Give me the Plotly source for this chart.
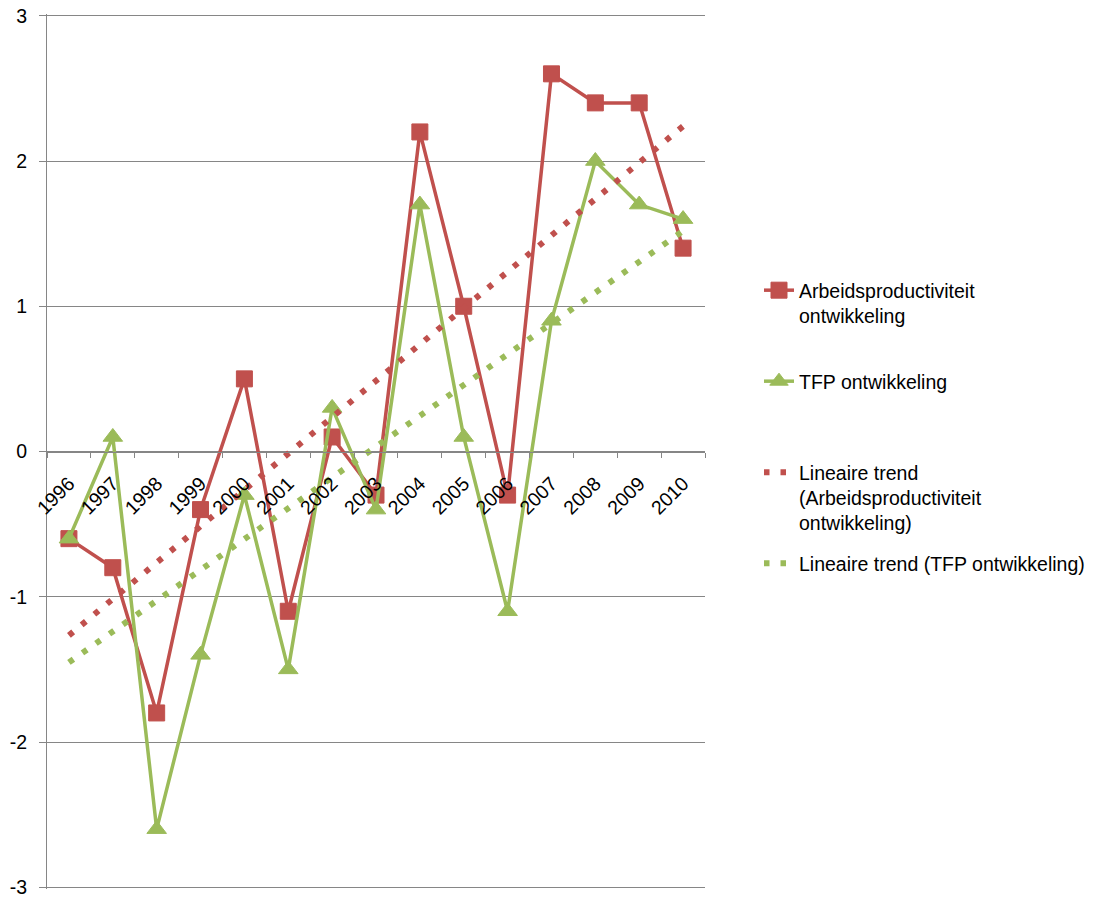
import numpy as np
import plotly.graph_objects as go

# Jaarlijkse ontwikkeling (%)
years = [str(y) for y in range(1996, 2011)]
arbeid = [-0.6, -0.8, -1.8, -0.4, 0.5, -1.1, 0.1, -0.3, 2.2, 1.0, -0.3, 2.6, 2.4, 2.4, 1.4]
tfp = [-0.6, 0.1, -2.6, -1.4, -0.3, -1.5, 0.3, -0.4, 1.7, 0.1, -1.1, 0.9, 2.0, 1.7, 1.6]
y_ticks = [-3, -2, -1, 0, 1, 2, 3]
y_labels = ["-3", "-2", "-1", "0", "1", "2", "3"]

RED = "#C0504D"
GREEN = "#9BBB59"
GRID = "#868686"
FONT = "Liberation Sans"
FS = 19.5
LEG_FS = 19.5


def linear_trend(values):
    idx = np.arange(len(values))
    slope, intercept = np.polyfit(idx, values, 1)
    ends = np.array([idx[0], idx[-1]])
    return [years[0], years[-1]], list(intercept + slope * ends)


fig = go.Figure()

fig.add_trace(go.Scatter(
    x=years, y=arbeid, mode="lines+markers",
    name="Arbeidsproductiviteit<br>ontwikkeling",
    line=dict(color=RED, width=3.5),
    marker=dict(symbol="square", size=16, color=RED, line=dict(color=RED, width=1)),
    legend="legend",
))
fig.add_trace(go.Scatter(
    x=years, y=tfp, mode="lines+markers",
    name="TFP ontwikkeling",
    line=dict(color=GREEN, width=3.5),
    marker=dict(symbol="triangle-up", size=17, color=GREEN, line=dict(color=GREEN, width=1)),
    legend="legend2",
))

tx, ty = linear_trend(arbeid)
fig.add_trace(go.Scatter(
    x=tx, y=ty, mode="lines",
    name="Lineaire trend<br>(Arbeidsproductiviteit<br>ontwikkeling)",
    line=dict(color=RED, width=6, dash="5.5px,11px"),
    legend="legend3",
))
tx, ty = linear_trend(tfp)
fig.add_trace(go.Scatter(
    x=tx, y=ty, mode="lines",
    name="Lineaire trend (TFP ontwikkeling)",
    line=dict(color=GREEN, width=6, dash="5.5px,11px"),
    legend="legend4",
))

legend_style = dict(
    xref="container", yref="container", x=759 / 1096, xanchor="left",
    yanchor="top", valign="top", bgcolor="rgba(0,0,0,0)",
    font=dict(family=FONT, size=LEG_FS, color="#000000"),
)

fig.update_layout(
    width=1096, height=899,
    margin=dict(l=47, r=391, t=14, b=10),
    paper_bgcolor="white", plot_bgcolor="white",
    font=dict(family=FONT, size=FS, color="#000000"),
    showlegend=True,
    legend=dict(legend_style, y=1 - 271 / 899),
    legend2=dict(legend_style, y=1 - 362 / 899),
    legend3=dict(legend_style, y=1 - 453 / 899),
    legend4=dict(legend_style, y=1 - 544 / 899),
    xaxis=dict(
        type="category", categoryorder="array", categoryarray=years,
        range=[-0.5, len(years) - 0.5],
        anchor="free", position=0.5,
        showline=True, linecolor=GRID, linewidth=1,
        ticks="outside", tickson="boundaries", ticklen=5, tickcolor=GRID,
        tickangle=-45, showgrid=False, zeroline=False, automargin=False,
        ticklabelstandoff=12,
        tickfont=dict(family=FONT, size=FS, color="#000000"),
    ),
    yaxis=dict(
        range=[-3.012, 3.012], tickmode="array", tickvals=y_ticks, ticktext=y_labels,
        showgrid=True, gridcolor=GRID, gridwidth=1,
        showline=True, linecolor=GRID, linewidth=1,
        ticks="outside", ticklen=7, tickcolor=GRID,
        zeroline=False, automargin=False,
        ticklabelstandoff=8, ticklabeloverflow="allow",
        tickfont=dict(family=FONT, size=FS, color="#000000"),
    ),
)

fig.write_html("out.html")
